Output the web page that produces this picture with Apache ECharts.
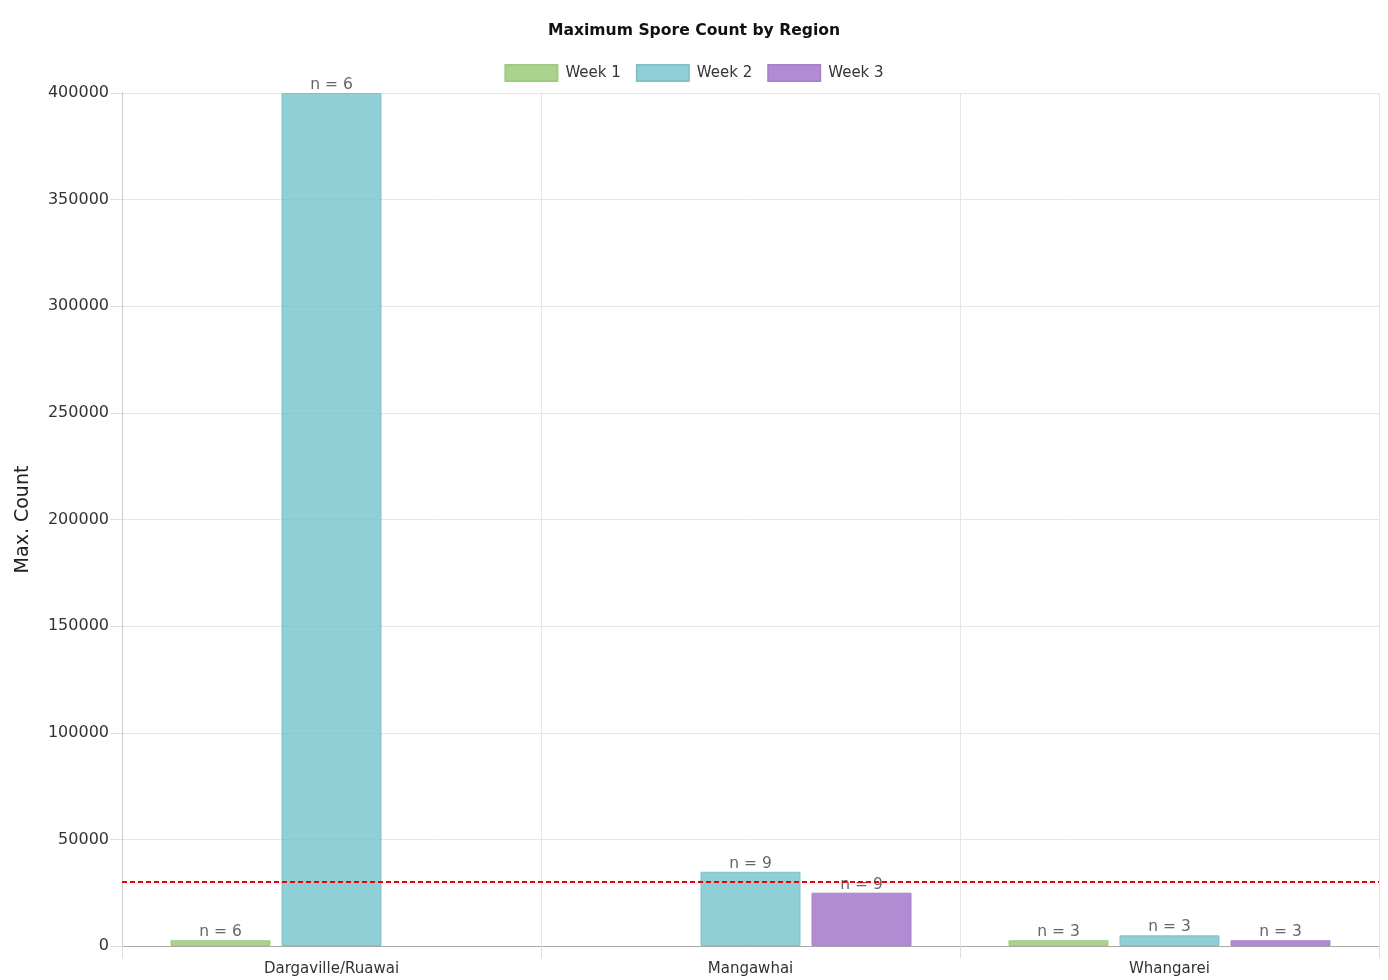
<!DOCTYPE html>
<html><head><meta charset="utf-8">
<script src="https://cdn.jsdelivr.net/npm/echarts@6/dist/echarts.min.js"></script>
<style>html,body{margin:0;padding:0;background:#fff}#c{width:1388px;height:980px}</style>
</head><body><div id="c"></div>
<script>
const categories = ['Dargaville/Ruawai', 'Mangawhai', 'Whangarei'];
const seriesNames = ['Week 1', 'Week 2', 'Week 3'];
const week1 = [2700, null, 2700];
const week2 = [400000, 34800, 5000];
const week3 = [null, 25000, 2700];
const week1N = [6, null, 3];
const week2N = [6, 9, 3];
const week3N = [null, 9, 3];
const threshold = 30000;
const yTicks = [0, 50000, 100000, 150000, 200000, 250000, 300000, 350000, 400000];

const fills = ['rgba(150,200,115,0.8)', 'rgba(115,195,202,0.8)', 'rgba(160,110,200,0.8)'];
const borders = ['#9ccb82', '#7fc3ca', '#a981cc'];
const FONT = 'DejaVu Sans';

function mk(i, vals, ns) {
  return {
    name: seriesNames[i], type: 'bar', barWidth: 100, barGap: '11%',
    data: vals.map((v, k) => ({ value: v, n: ns[k] })),
    itemStyle: { color: fills[i], borderColor: borders[i], borderWidth: 1 },
    label: { show: true, position: 'top', distance: 0, color: '#666', fontFamily: FONT, fontSize: 15.5,
      formatter: p => (p.data && p.data.n != null) ? 'n = ' + p.data.n : '' },
    z: 2
  };
}
const s1 = mk(0, week1, week1N), s2 = mk(1, week2, week2N), s3 = mk(2, week3, week3N);
s3.markLine = { silent: true, symbol: 'none', label: { show: false },
  lineStyle: { color: '#e8000b', type: [5, 3], width: 2 }, data: [{ yAxis: threshold }], z: 10 };

const chart = echarts.init(document.getElementById('c'));
chart.setOption({
  animation: false,
  textStyle: { fontFamily: FONT },
  title: { text: 'Maximum Spore Count by Region', left: 'center', top: 18,
    textStyle: { fontFamily: FONT, fontSize: 15.6, fontWeight: 'bold', color: '#111' } },
  legend: { top: 59, left: 'center', icon: 'rect', itemWidth: 52, itemHeight: 16, itemGap: 15,
    textStyle: { fontFamily: FONT, fontSize: 15, color: '#333', padding: [0, 0, 0, 3] } },
  grid: { left: 122, right: 9, top: 93, bottom: 34, containLabel: false },
  xAxis: { type: 'category', data: categories,
    axisLine: { lineStyle: { color: '#aaa' } },
    axisTick: { show: true, length: 12, lineStyle: { color: '#ddd' } },
    splitLine: { show: true, lineStyle: { color: '#e6e6e6' } },
    axisLabel: { color: '#333', fontSize: 15, fontFamily: FONT, margin: 16 } },
  yAxis: { type: 'value', min: 0, max: 400000, interval: 50000,
    name: 'Max. Count', nameLocation: 'middle', nameGap: 89,
    nameTextStyle: { fontFamily: FONT, fontSize: 19, color: '#222' },
    axisLine: { show: true, lineStyle: { color: '#ccc' } },
    axisTick: { show: true, length: 12, lineStyle: { color: '#ddd' } },
    splitLine: { show: true, lineStyle: { color: '#e6e6e6' } },
    axisLabel: { color: '#333', fontSize: 16, fontFamily: FONT, margin: 13, padding: [3, 0, 0, 0],
      formatter: v => yTicks.includes(v) ? String(v) : '' } },
  series: [s1, s2, s3]
});
</script></body></html>
